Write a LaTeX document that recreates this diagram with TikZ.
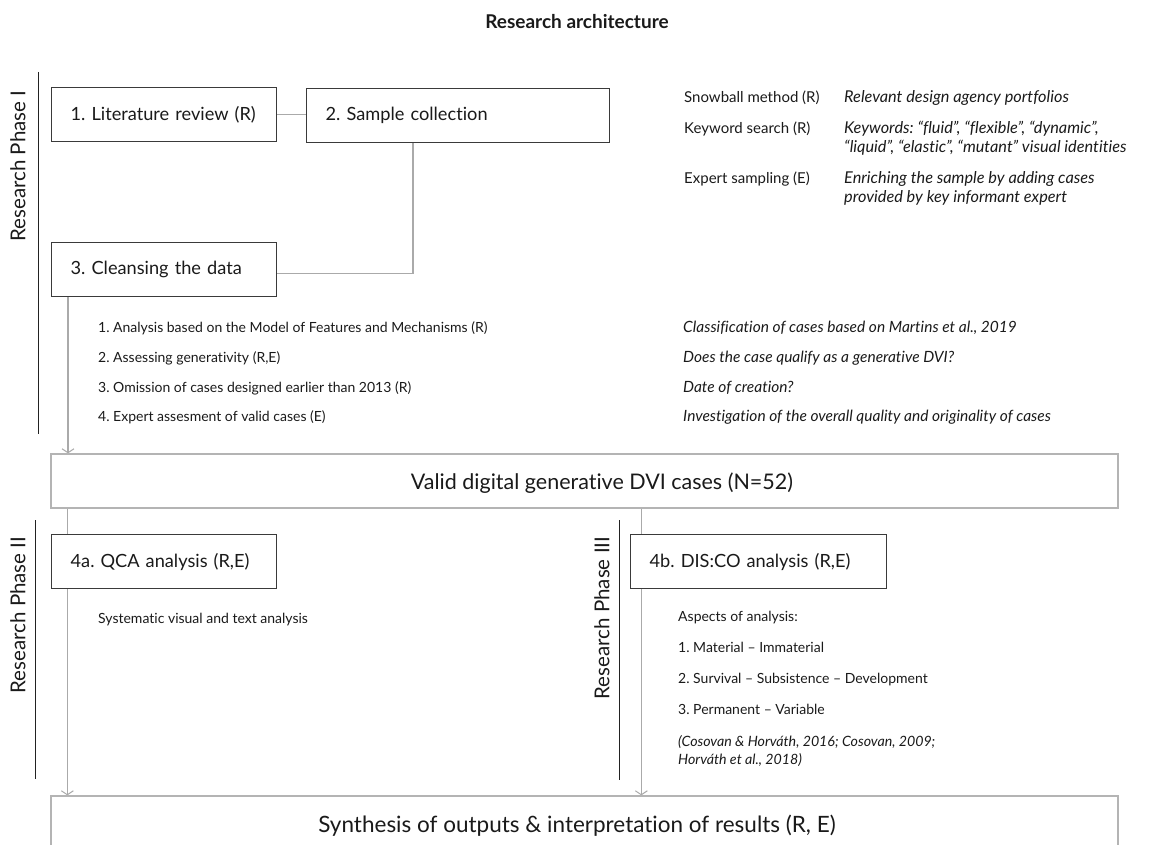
\documentclass[tikz,border=0pt]{standalone}
\usepackage{fontspec}
\setmainfont{Lato}[Ligatures=NoCommon]
\frenchspacing
\usetikzlibrary{arrows.meta,backgrounds}
\definecolor{boxdark}{HTML}{3A3A3A}
\definecolor{boxlight}{HTML}{B4B4B4}
\definecolor{conn}{HTML}{AAAAAA}
\definecolor{phase}{HTML}{222222}
\definecolor{txt}{HTML}{1A1A1A}
\begin{document}
\begin{tikzpicture}[x=1pt,y=-1pt,
  stepbox/.style={draw=boxdark, line width=1.3pt, fill=white, inner xsep=19pt, inner ysep=0pt,
    minimum height=54pt, align=left, anchor=north west, font=\fontsize{18.2}{21}\selectfont, text=txt},
  widebox/.style={draw=boxlight, line width=1.3pt, fill=white, minimum width=1067pt, minimum height=54pt,
    inner sep=0pt, text=txt},
  boxtext/.style={anchor=base, inner sep=0pt, text=txt},
  phaselabel/.style={rotate=90, font=\fontsize{20.5}{23}\selectfont, text=txt},
  phaseline/.style={draw=phase, line width=1pt},
  connector/.style={draw=conn, line width=1.3pt},
  arrowconn/.style={connector, -{Straight Barb[length=4pt,width=12pt,line width=1pt]}},
  small/.style={anchor=base west, inner sep=0pt, font=\fontsize{14}{16}\selectfont, text=txt},
  smallit/.style={anchor=base west, inner sep=0pt, font=\fontsize{15.5}{17}\selectfont\itshape, text=txt},
  topnorm/.style={anchor=base west, inner sep=0pt, font=\fontsize{15}{17}\selectfont, text=txt},
  topit/.style={anchor=base west, inner sep=0pt, font=\fontsize{16.3}{18}\selectfont\itshape, text=txt},
  botit/.style={anchor=base west, inner sep=0pt, font=\fontsize{14.2}{16}\selectfont\itshape, text=txt}
]
\useasboundingbox (0,0) rectangle (1153,845);
\clip (0,0) rectangle (1153,845);

% title
\node[anchor=base, inner sep=0pt, font=\fontsize{19}{22}\selectfont\bfseries, text=txt] (title) at (577,29) {Research architecture};

% phase labels and lines
\node[phaselabel] (p1) at (18,166) {Research Phase I};
\draw[phaseline] (38,72) -- (38,434);
\node[phaselabel] (p2) at (18,615) {Research Phase II};
\draw[phaseline] (35,520) -- (35,779);
\node[phaselabel] (p3) at (602,618) {Research Phase III};
\draw[phaseline] (619,520) -- (619,780);

% boxes
\node[stepbox, text width=187pt] (b1) at (51,87) {1. Literature review (R)};
\node[stepbox, text width=265pt] (b2) at (306,88) {2. Sample collection};
\node[stepbox, text width=187pt] (b3) at (51,242) {3. Cleansing the data};
\node[widebox] (v) at (584.5,481) {};
\node[boxtext, font=\fontsize{21.5}{24}\selectfont] (vtext) at (602,489) {Valid digital generative DVI cases (N=52)};
\node[stepbox, text width=187pt] (b4a) at (51,534) {4a. QCA analysis (R,E)};
\node[stepbox, text width=218pt] (b4b) at (630,534) {4b. DIS:CO analysis (R,E)};
\node[widebox, minimum height=60pt] (syn) at (584.5,826) {};
\node[boxtext, font=\fontsize{22.5}{25}\selectfont] (syntext) at (577,832) {Synthesis of outputs \& interpretation of results (R, E)};

% connectors
\begin{scope}[on background layer]
\draw[connector] (b1.east) -- (b1.east -| b2.west);
\draw[connector] ([xshift=107pt]b2.south west) |- ([yshift=-4pt]b3.east);
\draw[arrowconn] ([xshift=17pt]b3.south west) -- ([xshift=17pt]b3.south west |- v.north);
\draw[arrowconn] ([xshift=17pt]v.south west) -- ([xshift=17pt]v.south west |- syn.north);
\draw[arrowconn] ([xshift=591pt]v.south west) -- ([xshift=591pt]v.south west |- syn.north);
\end{scope}

% top right
\node[topnorm] (s1) at (684,103) {Snowball method (R)};
\node[topit] (s1d) at (844,103) {Relevant design agency portfolios};
\node[topnorm] (s2) at (684,134) {Keyword search (R)};
\node[topit] (s2d) at (844,134) {Keywords: “fluid”, “flexible”, “dynamic”,};
\node[topit] (s2e) at (844,153) {“liquid”, “elastic”, “mutant” visual identities};
\node[topnorm] (s3) at (684,184) {Expert sampling (E)};
\node[topit] (s3d) at (844,184) {Enriching the sample by adding cases};
\node[topit] (s3e) at (844,203) {provided by key informant expert};

% cleansing list
\node[small] (c1) at (98,332) {1. Analysis based on the Model of Features and Mechanisms (R)};
\node[small] (c2) at (98,362) {2. Assessing generativity (R,E)};
\node[small] (c3) at (98,392) {3. Omission of cases designed earlier than 2013 (R)};
\node[small] (c4) at (98,421) {4. Expert assesment of valid cases (E)};
\node[smallit] (d1) at (683,332) {Classification of cases based on Martins et al., 2019};
\node[smallit] (d2) at (683,362) {Does the case qualify as a generative DVI?};
\node[smallit] (d3) at (683,392) {Date of creation?};
\node[smallit] (d4) at (683,421) {Investigation of the overall quality and originality of cases};

% phase II / III texts
\node[small] (q1) at (98,623) {Systematic visual and text analysis};
\node[small] (a0) at (678,621) {Aspects of analysis:};
\node[small] (a1) at (678,652) {1. Material – Immaterial};
\node[small] (a2) at (678,683) {2. Survival – Subsistence – Development};
\node[small] (a3) at (678,714) {3. Permanent – Variable};
\node[botit] (a4) at (678,746) {(Cosovan \& Horváth, 2016; Cosovan, 2009;};
\node[botit] (a5) at (678,764) {Horváth et al., 2018)};
\end{tikzpicture}
\end{document}
